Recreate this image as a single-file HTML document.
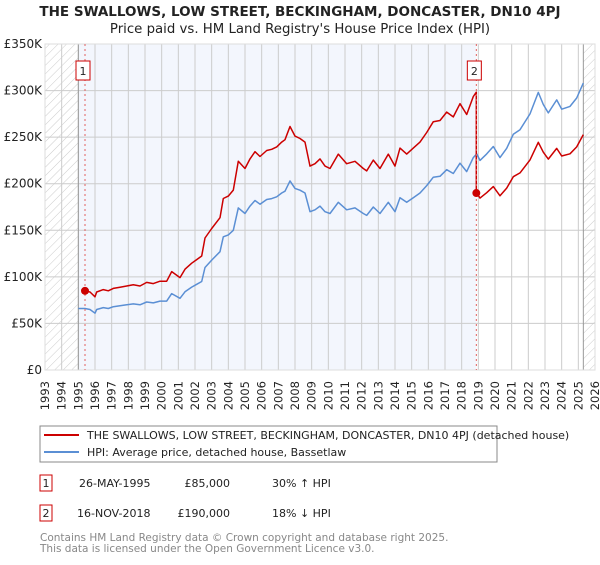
<!DOCTYPE html>
<html><head><meta charset="utf-8"><style>
body{margin:0;background:#fff;}
svg text{font-family:"DejaVu Sans","Liberation Sans",sans-serif;}
</style></head><body>
<svg id="chart" width="600" height="560" viewBox="0 0 600 560" xmlns="http://www.w3.org/2000/svg">
<defs>
<pattern id="hatch" patternUnits="userSpaceOnUse" width="6" height="6" patternTransform="rotate(45)">
<line x1="0" y1="0" x2="0" y2="6" stroke="#ccc" stroke-width="1"/>
</pattern>
</defs>
<text x="300" y="16" text-anchor="middle" font-size="13.5" font-weight="bold" fill="#222">THE SWALLOWS, LOW STREET, BECKINGHAM, DONCASTER, DN10 4PJ</text>
<text x="300" y="33" text-anchor="middle" font-size="13.3" fill="#222">Price paid vs. HM Land Registry's House Price Index (HPI)</text>
<g id="plot"></g>
<g>
<rect x="40" y="426" width="457" height="36" fill="#fff" stroke="#888" stroke-width="1"/>
<line x1="44" y1="435" x2="79" y2="435" stroke="#cc0000" stroke-width="2"/>
<text x="87" y="439" font-size="11" fill="#222">THE SWALLOWS, LOW STREET, BECKINGHAM, DONCASTER, DN10 4PJ (detached house)</text>
<line x1="44" y1="452" x2="79" y2="452" stroke="#5b8fd4" stroke-width="2"/>
<text x="87" y="456" font-size="11" fill="#222">HPI: Average price, detached house, Bassetlaw</text>
</g>
<g font-size="11" fill="#222">
<rect x="40" y="475" width="12" height="16" fill="#fff" stroke="#cc0000"/>
<text x="46" y="487" text-anchor="middle">1</text>
<text x="79" y="487">26-MAY-1995</text>
<text x="230" y="487" text-anchor="end">£85,000</text>
<text x="272" y="487">30% ↑ HPI</text>
<rect x="40" y="505" width="12" height="16" fill="#fff" stroke="#cc0000"/>
<text x="46" y="517" text-anchor="middle">2</text>
<text x="77" y="517">16-NOV-2018</text>
<text x="230" y="517" text-anchor="end">£190,000</text>
<text x="272" y="517">18% ↓ HPI</text>
</g>
<text x="40" y="541" font-size="10.5" fill="#888">Contains HM Land Registry data © Crown copyright and database right 2025.</text>
<text x="40" y="552" font-size="10.5" fill="#888">This data is licensed under the Open Government Licence v3.0.</text>
</svg>
<script>
const hpiYears=[1995.0,1995.4,1995.7,1996.0,1996.1,1996.5,1996.8,1997.1,1997.5,1997.9,1998.3,1998.7,1999.1,1999.5,1999.9,2000.3,2000.6,2001.1,2001.4,2001.8,2002.1,2002.4,2002.6,2003.0,2003.5,2003.7,2004.0,2004.3,2004.6,2005.0,2005.3,2005.6,2005.9,2006.3,2006.6,2006.9,2007.2,2007.4,2007.7,2008.0,2008.3,2008.6,2008.9,2009.2,2009.5,2009.8,2010.1,2010.6,2011.1,2011.6,2012.1,2012.3,2012.7,2013.1,2013.6,2014.0,2014.3,2014.7,2015.1,2015.5,2015.9,2016.3,2016.7,2017.1,2017.5,2017.9,2018.3,2018.7,2018.9,2019.1,2019.5,2019.9,2020.3,2020.7,2021.1,2021.5,2022.1,2022.6,2022.9,2023.2,2023.7,2024.0,2024.5,2024.9,2025.3];
const hpiValues=[66,66,65,61,65,67,66,68,69,70,71,70,73,72,74,74,82,77,84,89,92,95,110,118,127,143,145,150,174,168,176,182,178,183,184,186,190,192,203,195,193,190,170,172,176,170,168,180,172,174,168,166,175,168,180,170,185,180,185,190,198,207,208,215,211,222,213,228,232,225,232,240,228,238,253,258,275,298,285,276,290,280,283,292,308];
const saleYears=[1995.4,2018.88];
const salePrices=[85,190];
const saleLabels=["1","2"];
const yTicks=[0,50,100,150,200,250,300,350];
const yTickLabels=["£0","£50K","£100K","£150K","£200K","£250K","£300K","£350K"];
const xTicks=[1993,1994,1995,1996,1997,1998,1999,2000,2001,2002,2003,2004,2005,2006,2007,2008,2009,2010,2011,2012,2013,2014,2015,2016,2017,2018,2019,2020,2021,2022,2023,2024,2025,2026];

const X0=45,X1=595,Y0=370,Y1=44;
const x=y=>X0+(y-1993)/(2026-1993)*(X1-X0);
const yv=v=>Y0-v/350*(Y0-Y1);
const NS="http://www.w3.org/2000/svg";
const plot=document.getElementById('plot');
function mk(tag,attrs,parent){const e=document.createElementNS(NS,tag);for(const k in attrs)e.setAttribute(k,attrs[k]);(parent||plot).appendChild(e);return e;}

const bg=mk('rect',{x:X0,y:Y1,width:X1-X0,height:Y0-Y1,fill:'#fff'});


const shade=mk('rect',{x:x(hpiYears[0]),y:Y1,width:x(saleYears[1])-x(hpiYears[0]),height:Y0-Y1,fill:'#f3f6fd'});


const hl=mk('rect',{x:X0,y:Y1,width:x(hpiYears[0])-X0,height:Y0-Y1,fill:'url(#hatch)'});


const hr=mk('rect',{x:x(hpiYears[hpiYears.length-1]),y:Y1,width:X1-x(hpiYears[hpiYears.length-1]),height:Y0-Y1,fill:'url(#hatch)'});



xTicks.forEach(t=>{
  const l=mk('line',{x1:x(t),x2:x(t),y1:Y1,y2:Y0,stroke:'#ccc','stroke-width':1});
  
  
  const tx=mk('text',{x:x(t)+4,y:381,'text-anchor':'end','font-size':11.5,fill:'#222',transform:'rotate(-90 '+(x(t)+4)+' 381)'});
  tx.textContent=t;
  
  
});
yTicks.forEach((t,i)=>{
  const l=mk('line',{x1:X0,x2:X1,y1:yv(t),y2:yv(t),stroke:'#ccc','stroke-width':1});
  
  
  const tx=mk('text',{x:X0-3,y:yv(t)+4,'text-anchor':'end','font-size':12,fill:'#222'});
  tx.textContent=yTickLabels[i];
  
  
});
[hpiYears[0],hpiYears[hpiYears.length-1]].forEach(t=>{
  const l=mk('line',{x1:x(t),x2:x(t),y1:Y1,y2:Y0,stroke:'#999','stroke-width':1});
  
  
});
mk('rect',{x:X0,y:Y1,width:X1-X0,height:Y0-Y1,fill:'none',stroke:'#ddd'});

function hpiAt(t){for(let i=0;i<hpiYears.length-1;i++){if(t>=hpiYears[i]&&t<=hpiYears[i+1]){const f=(t-hpiYears[i])/(hpiYears[i+1]-hpiYears[i]);return hpiValues[i]+f*(hpiValues[i+1]-hpiValues[i]);}}return hpiValues[hpiValues.length-1];}

const hp=hpiYears.map((t,i)=>x(t).toFixed(1)+','+yv(hpiValues[i]).toFixed(1)).join(' ');
const hpiLine=mk('polyline',{points:hp,fill:'none',stroke:'#5b8fd4','stroke-width':1.5,'stroke-linejoin':'round'});



const pts=[];
const r0=salePrices[0]/hpiAt(saleYears[0]);
pts.push([saleYears[0],salePrices[0]]);
hpiYears.forEach((t,i)=>{if(t>saleYears[0]&&t<saleYears[1])pts.push([t,hpiValues[i]*r0]);});
pts.push([saleYears[1],hpiAt(saleYears[1])*r0]);
pts.push([saleYears[1],salePrices[1]]);
const r1=salePrices[1]/hpiAt(saleYears[1]);
hpiYears.forEach((t,i)=>{if(t>saleYears[1])pts.push([t,hpiValues[i]*r1]);});
const propLine=mk('polyline',{points:pts.map(p=>x(p[0]).toFixed(1)+','+yv(p[1]).toFixed(1)).join(' '),fill:'none',stroke:'#cc0000','stroke-width':1.5,'stroke-linejoin':'round'});



saleYears.forEach((t,i)=>{
  const l=mk('line',{x1:x(t),x2:x(t),y1:Y1,y2:Y0,stroke:'#e06060','stroke-width':1,'stroke-dasharray':'2,3'});
  
  
  const c=mk('circle',{cx:x(t),cy:yv(salePrices[i]),r:4,fill:'#cc0000'});
  
  
  const b=mk('rect',{x:x(t)-9,y:61,width:14,height:19,fill:'#fff',stroke:'#cc0000','stroke-width':1});
  
  
  const tx=mk('text',{x:x(t)-2,y:75,'text-anchor':'middle','font-size':11,fill:'#222'});
  tx.textContent=saleLabels[i];
  
  
});
</script>
</body></html>
